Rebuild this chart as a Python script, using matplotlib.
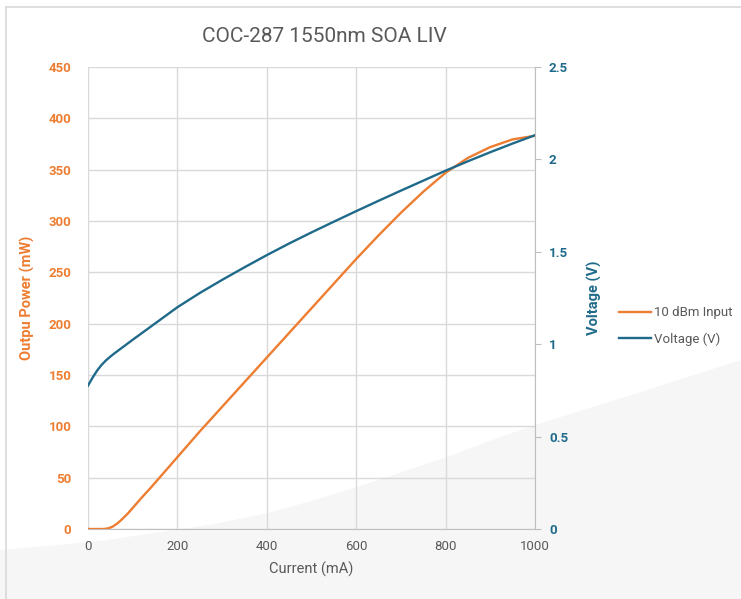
import matplotlib
matplotlib.use("Agg")
import matplotlib.pyplot as plt
from matplotlib.patches import Polygon
from matplotlib.lines import Line2D

plt.rcParams['font.family'] = ['Roboto', 'DejaVu Sans']

current_ma = [0, 20, 35, 45, 55, 65, 75, 90, 105, 120, 140, 160, 180, 200, 250, 300,
              350, 400, 450, 500, 550, 600, 650, 700, 750, 800, 850, 900, 950, 1000]
power_mw = [0, 0, 0, 0.6, 2.3, 5.2, 9, 15.5, 23, 30.5, 40, 50, 60, 70, 95, 119,
            143, 167, 191, 215, 239, 263, 286, 308, 328.5, 347, 361.5, 372, 379.5, 383]

v_current_ma = [0, 10, 20, 30, 40, 50, 60, 70, 80, 100, 125, 150, 175, 200, 250, 300,
                350, 400, 450, 500, 550, 600, 650, 700, 750, 800, 850, 900, 950, 1000]
voltage_v = [0.776, 0.818, 0.856, 0.887, 0.912, 0.933, 0.952, 0.970, 0.988, 1.024, 1.068,
             1.112, 1.156, 1.200, 1.277, 1.348, 1.416, 1.482, 1.545, 1.605, 1.663, 1.720,
             1.776, 1.831, 1.885, 1.939, 1.990, 2.039, 2.086, 2.131]

x_ticks = [0, 200, 400, 600, 800, 1000]
left_ticks = [0, 50, 100, 150, 200, 250, 300, 350, 400, 450]
right_ticks = [0, 0.5, 1, 1.5, 2, 2.5]
right_labels = ['0', '0.5', '1', '1.5', '2', '2.5']

ORANGE = '#ED7D31'
BLUE = '#1F6A8A'
GRAY = '#595959'
GRID = '#D9D9D9'

W, H = 741, 599
fig = plt.figure(figsize=(W / 100, H / 100), dpi=100)
fig.patch.set_facecolor('white')

# background shading wedge (figure pixel coords -> fraction)
pts = [(0, 550), (60, 545), (107, 540), (160, 532), (215, 524), (268, 513), (315, 500),
       (357, 487), (405, 471), (450, 456), (495, 439), (535, 425), (590, 408), (641, 392),
       (691, 376), (741, 360), (741, 599), (0, 599)]
poly = Polygon([(x / W, 1 - y / H) for x, y in pts], closed=True,
               transform=fig.transFigure, facecolor='#F6F6F6', edgecolor='none', zorder=-2)
fig.patches.append(poly)
# chart frame
fig.lines.append(Line2D([6 / W, 6 / W], [1 - 7 / H, 0], transform=fig.transFigure, color=GRID, lw=1.2, zorder=-1))
fig.lines.append(Line2D([6 / W, 1], [1 - 7 / H, 1 - 7 / H], transform=fig.transFigure, color=GRID, lw=1.2, zorder=-1))

ax = fig.add_axes([88 / W, 1 - 529 / H, (535 - 88) / W, (529 - 67) / H])
ax.set_facecolor('none')
ax2 = ax.twinx()
ax2.set_facecolor('none')

ln1, = ax.plot(current_ma, power_mw, color=ORANGE, lw=1.7, label='10 dBm Input', zorder=3)
ln2, = ax2.plot(v_current_ma, voltage_v, color=BLUE, lw=1.7, label='Voltage (V)', zorder=3)

ax.set_xlim(0, 1000)
ax.set_ylim(0, 450)
ax2.set_ylim(0, 2.5)
ax.set_xticks(x_ticks)
ax.set_yticks(left_ticks)
ax2.set_yticks(right_ticks)
ax2.set_yticklabels(right_labels)

ax.grid(True, color=GRID, lw=1)
ax.set_axisbelow(True)
for s in ['top', 'left']:
    ax.spines[s].set_visible(False)
    ax2.spines[s].set_visible(False)
ax.spines['right'].set_visible(False)
ax2.spines['bottom'].set_visible(False)
ax.spines['bottom'].set_color('#BFBFBF')
ax2.spines['right'].set_color('#BFBFBF')

ax.tick_params(axis='x', length=0, pad=8, labelsize=9.5, labelcolor=GRAY)
ax.tick_params(axis='y', length=0, pad=12, labelsize=9.5, labelcolor=ORANGE)
ax2.tick_params(axis='y', length=4, color='#BFBFBF', pad=6, labelsize=9.5, labelcolor=BLUE)
for t in ax.get_yticklabels():
    t.set_fontweight('bold')
for t in ax2.get_yticklabels():
    t.set_fontweight('bold')

ax.set_xlabel('Current (mA)', color=GRAY, fontsize=10.5, labelpad=6)
ax.set_ylabel('Outpu Power (mW)', color=ORANGE, fontsize=10.5, fontweight='bold', labelpad=10)
ax2.set_ylabel('Voltage (V)', color=BLUE, fontsize=10.5, fontweight='bold', labelpad=14)

fig.text(324 / W, 1 - 37 / H, 'COC-287 1550nm SOA LIV', ha='center', va='center',
         fontsize=15, color=GRAY)

fig.legend(handles=[ln1, ln2], loc='center left', bbox_to_anchor=(607 / W, 1 - 326 / H),
           frameon=False, fontsize=9.5, labelcolor=GRAY, handlelength=2.4, handletextpad=0.3,
           labelspacing=1.0)

fig.savefig('out.png', dpi=100)
